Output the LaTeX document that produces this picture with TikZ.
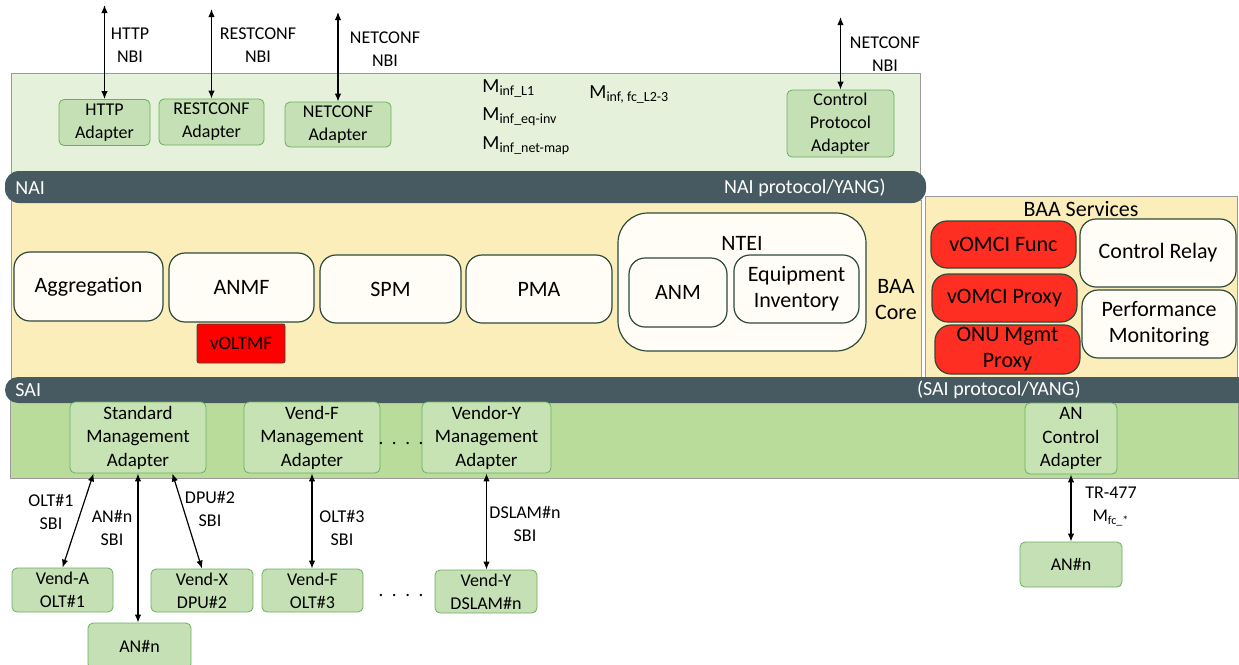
\documentclass[tikz,border=0pt]{standalone}
\usepackage{fontspec}
\setmainfont{Carlito}
\usetikzlibrary{arrows.meta,calc}

\definecolor{naigreen}{HTML}{E6F1DB}
\definecolor{adgreen}{HTML}{C5E0B4}
\definecolor{adline}{HTML}{6AAF5F}
\definecolor{barslate}{HTML}{475A61}
\definecolor{coreyellow}{HTML}{FBEEBB}
\definecolor{boxwhite}{HTML}{FFFDF6}
\definecolor{boxline}{HTML}{2E4A3A}
\definecolor{saigreen}{HTML}{B9DC9B}
\definecolor{sailight}{HTML}{C7E3B3}
\definecolor{regionline}{HTML}{9A9A9A}
\definecolor{voltred}{HTML}{FF0000}
\definecolor{svcred}{HTML}{FF2E22}

\begin{document}
\begin{tikzpicture}[x=0.5pt,y=-0.5pt,
	adapter/.style={draw=adline,fill=adgreen,rounded corners=2.5pt,align=center,inner sep=0pt,
		font=\fontsize{9}{11.5}\selectfont},
	saiad/.style={adapter,fill=sailight,font=\fontsize{9.5}{11.75}\selectfont},
	corebox/.style={draw=boxline,fill=boxwhite,line width=0.6pt,rounded corners=8pt,align=center,
		inner sep=0pt,font=\fontsize{11}{13}\selectfont},
	svcbox/.style={corebox,fill=svcred},
	lbl/.style={align=center,inner sep=0pt,font=\fontsize{9}{11.5}\selectfont},
	mlbl/.style={inner sep=0pt,font=\fontsize{10}{12}\selectfont},
	bartext/.style={text=white,inner sep=0pt,font=\fontsize{10}{12}\selectfont},
	link/.style={line width=0.6pt,{Latex[length=4pt,width=3.2pt]}-{Latex[length=4pt,width=3.2pt]}}]

	\useasboundingbox (0,0) rectangle (1239,665);

	% layers
	\filldraw[fill=naigreen,draw=regionline]	(11,73) rectangle (920,190);
	\filldraw[fill=coreyellow,draw=regionline]	(11,200) rectangle (921,378);
	\filldraw[fill=coreyellow,draw=regionline]	(925,196) rectangle (1237,378);
	\filldraw[fill=saigreen,draw=regionline]	(10,400) rectangle (1238,478);
	\fill[barslate,rounded corners=7pt]		(5,171) rectangle (926,203);
	\fill[barslate,rounded corners=6.5pt]	(5,377) rectangle (1270,403);

	\node[bartext,anchor=west]	(nai)		at (15,188)		{NAI};
	\node[bartext,anchor=east]	(naiprot)	at (886,188)	{NAI protocol/YANG)};
	\node[bartext,anchor=west]	(sai)		at (15,390)		{SAI};
	\node[bartext,anchor=east]	(saiprot)	at (1081,390)	{(SAI protocol/YANG)};

	% northbound adapters
	\node[adapter,minimum width=45.5pt,minimum height=23pt]		(httpad)	at (104.5,122.5)	{HTTP\\Adapter};
	\node[adapter,minimum width=52.5pt,minimum height=23pt]		(restad)	at (211.5,122)		{RESTCONF\\Adapter};
	\node[adapter,minimum width=53pt,minimum height=22.5pt]		(netad)		at (338,124.5)		{NETCONF\\Adapter};
	\node[adapter,minimum width=53.5pt,minimum height=33.5pt]	(ctrlad)	at (840.5,123.5)	{Control\\Protocol\\Adapter};

	\coordinate	(httptop)	at (104.5,5);
	\coordinate	(resttop)	at (211.5,9);
	\coordinate	(nettop)	at (338,12);
	\coordinate	(ctrltop)	at (840.5,17);

	\draw[link]	(httptop) -- (httpad);
	\draw[link]	(resttop) -- (restad);
	\draw[link]	(nettop) -- (netad);
	\draw[link]	(ctrltop) -- (ctrlad);

	\node[lbl]	(httplbl)	at (130,45.5)	{HTTP\\NBI};
	\node[lbl]	(restlbl)	at (258,45.5)	{RESTCONF\\NBI};
	\node[lbl]	(netlbl)	at (385,49)		{NETCONF\\NBI};
	\node[lbl]	(ctrllbl)	at (885,54.5)	{NETCONF\\NBI};

	\node[mlbl,anchor=base west]	(minfl)		at (482,92)		{M\textsubscript{inf\_L1}};
	\node[mlbl,anchor=base west]	(minfeq)	at (482,120.5)	{M\textsubscript{inf\_eq-inv}};
	\node[mlbl,anchor=base west]	(minfnet)	at (482,149)	{M\textsubscript{inf\_net-map}};
	\node[mlbl,anchor=base west]	(minffc)	at (589,98)		{M\textsubscript{inf, fc\_L2-3}};

	% BAA core
	\node[corebox,minimum width=74.5pt,minimum height=34.5pt]	(agg)	at (88.5,286.5)	{Aggregation};
	\node[corebox,minimum width=72.5pt,minimum height=34.5pt]	(anmf)	at (241.5,287.5)	{ANMF};
	\node[corebox,minimum width=70.5pt,minimum height=34pt]		(spm)	at (390.5,289)		{SPM};
	\node[corebox,minimum width=73pt,minimum height=34pt]		(pma)	at (539,289)		{PMA};
	\node[draw=boxline,fill=voltred,rounded corners=1pt,inner sep=0pt,minimum width=44pt,minimum height=19.5pt,
		font=\fontsize{9.5}{11}\selectfont]					(voltmf)	at (241,343.5)	{vOLTMF};

	\node[corebox,rounded corners=15pt,minimum width=124pt,minimum height=69pt]	(ntei)	at (742,282)	{};
	\node[inner sep=0pt,font=\fontsize{11}{13}\selectfont]	(nteilbl)	at (742,243)	{NTEI};
	\node[corebox,minimum width=49pt,minimum height=34.5pt]		(anm)	at (678,292.5)		{ANM};
	\node[corebox,minimum width=62.5pt,minimum height=34pt]		(eqinv)	at (796.5,289)		{Equipment\\Inventory};
	\node[lbl,font=\fontsize{11}{13}\selectfont]			(baacore)	at (896,300)	{BAA\\Core};

	% BAA services
	\node[inner sep=0pt,font=\fontsize{11}{13}\selectfont]	(baasvc)	at (1081,209)	{BAA Services};
	\node[svcbox,minimum width=72.5pt,minimum height=23.5pt]	(vomcif)	at (1003.5,244.5)	{vOMCI Func};
	\node[svcbox,minimum width=72.5pt,minimum height=24pt]		(vomcip)	at (1004.5,298)		{vOMCI Proxy};
	\node[svcbox,minimum width=72.5pt,minimum height=24.5pt]	(onu)		at (1007.5,349.5)	{ONU Mgmt\\Proxy};
	\node[corebox,minimum width=78pt,minimum height=34pt]		(relay)		at (1158,253)		{Control Relay};
	\node[corebox,minimum width=77pt,minimum height=34pt]		(perfmon)	at (1159,324)		{Performance\\Monitoring};

	% southbound adapters
	\node[saiad,minimum width=68pt,minimum height=35.5pt]	(stdad)		at (138,437.5)	{Standard\\Management\\Adapter};
	\node[saiad,minimum width=68pt,minimum height=35.5pt]	(vfad)		at (312,437.5)	{Vend-F\\Management\\Adapter};
	\node[saiad,minimum width=64.5pt,minimum height=35.5pt]	(vyad)		at (486.5,437.5)	{Vendor-Y\\Management\\Adapter};
	\node[saiad,minimum width=46pt,minimum height=35.5pt]	(anctrl)	at (1071,438.5)	{AN\\Control\\Adapter};
	\node[lbl,font=\fontsize{9.5}{11}\selectfont]	(dotsad)	at (401,443)	{.\ \ .\ \ .\ \ .};

	% access nodes
	\node[adapter,minimum width=50.5pt,minimum height=22pt]		(venda)		at (62.5,590)		{Vend-A\\OLT\#1};
	\node[adapter,minimum width=51pt,minimum height=21.5pt]		(vendx)		at (202,590.5)		{Vend-X\\DPU\#2};
	\node[adapter,minimum width=50.5pt,minimum height=21.5pt]	(vendf)		at (312.5,590.5)	{Vend-F\\OLT\#3};
	\node[adapter,minimum width=51pt,minimum height=21.5pt]		(vendy)		at (486,591.5)		{Vend-Y\\DSLAM\#n};
	\node[adapter,minimum width=51.5pt,minimum height=23pt]		(anstd)		at (139.5,646)		{AN\#n};
	\node[adapter,minimum width=51pt,minimum height=22.5pt]		(anctl)		at (1071,564.5)		{AN\#n};
	\node[lbl,font=\fontsize{9.5}{11}\selectfont]	(dotsan)	at (401,595)	{.\ \ .\ \ .\ \ .};

	\draw[link]	($(stdad.south west)+(24,0)$) -- (venda.north);
	\draw[link]	(stdad.south) -- (stdad.south |- anstd.north);
	\draw[link]	($(stdad.south east)+(-34,0)$) -- (vendx.north);
	\draw[link]	(vfad) -- (vfad |- vendf.north);
	\draw[link]	(vyad) -- (vyad |- vendy.north);
	\draw[link]	(anctrl) -- (anctl);

	\node[lbl]	(olt1lbl)	at (51,512)		{OLT\#1\\SBI};
	\node[lbl]	(annlbl)	at (112,528)	{AN\#n\\SBI};
	\node[lbl]	(dpu2lbl)	at (210,508.5)	{DPU\#2\\SBI};
	\node[lbl]	(olt3lbl)	at (342,528)	{OLT\#3\\SBI};
	\node[lbl]	(dslamlbl)	at (525,523.5)	{DSLAM\#n\\SBI};
	\node[lbl]	(trlbl)		at (1111,506.5)	{TR-477\\M\textsubscript{fc\_*}};
\end{tikzpicture}
\end{document}
